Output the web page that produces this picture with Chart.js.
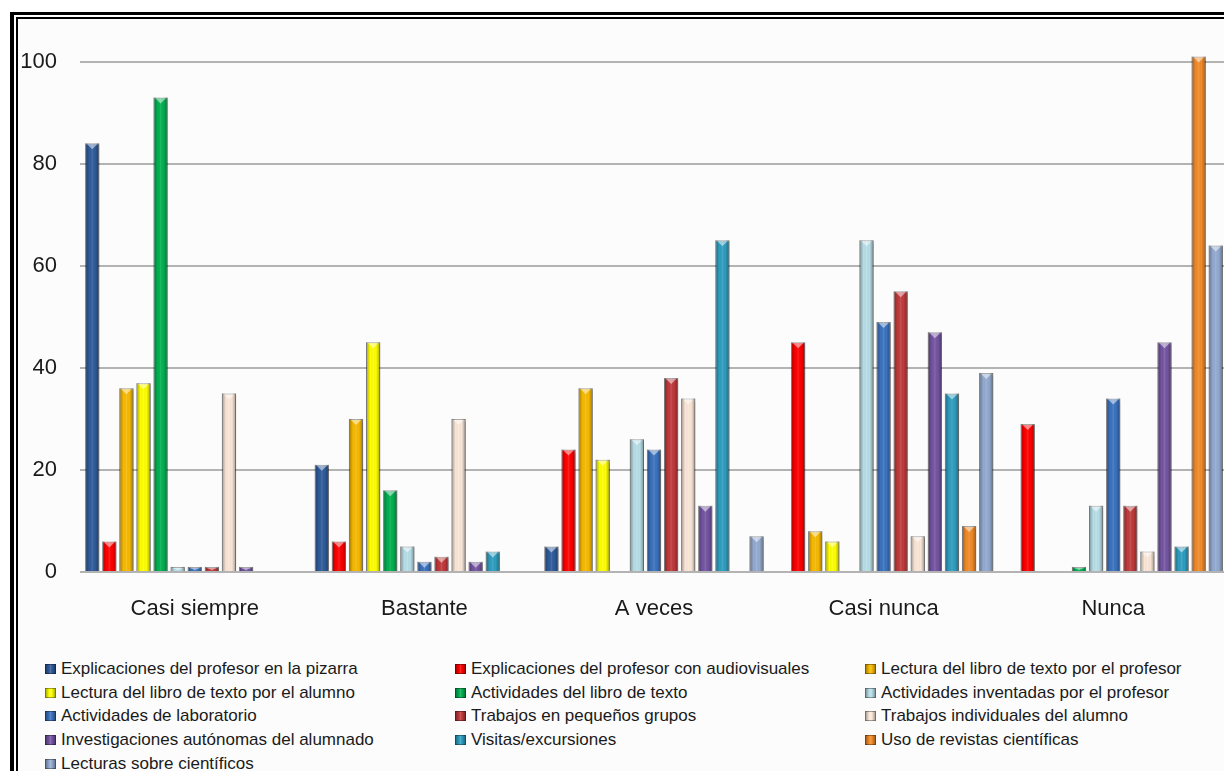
<!DOCTYPE html>
<html lang="es">
<head>
<meta charset="UTF-8">
<title>Metodología en el aula</title>
<script src="https://cdn.jsdelivr.net/npm/chart.js"></script>
<style>
  * { margin: 0; padding: 0; box-sizing: border-box; }

  html, body { overflow: hidden; }
  body {
    width: 1224px;
    height: 771px;
    background: #ffffff;
    position: relative;
    font-family: 'Liberation Sans', Arial, sans-serif;
  }

  /* double black frame, cut by the right and bottom edge like the picture */
  .frame {
    position: absolute;
    left: 10px;
    top: 12px;
    width: 1300px;
    height: 820px;
    border: 3px solid #000;
    border-left-width: 4px;
  }
  .frame-inner {
    position: absolute;
    left: 2px;
    top: 2px;
    right: -10px;
    bottom: -10px;
    border: 2px solid #000;
    background: #fcfcfc;
  }

  #chart {
    position: absolute;
    left: 0;
    top: 0;
    z-index: 2;
  }

  .legend {
    position: absolute;
    left: 45px;
    top: 657px;
    z-index: 3;
    display: grid;
    grid-template-columns: 410px 410px 410px;
    grid-auto-rows: 23.75px;
  }
  .legend-item {
    display: flex;
    align-items: center;
    font-size: 17px;
    color: #1a1a1a;
    white-space: nowrap;
  }
  .legend-item i {
    display: inline-block;
    width: 11px;
    height: 10px;
    margin-right: 5px;
    border: 1px solid rgba(0, 0, 0, 0.35);
    background-image: linear-gradient(to right, rgba(0,0,0,0.3), rgba(0,0,0,0) 35%, rgba(255,255,255,0.15) 50%, rgba(0,0,0,0) 65%, rgba(0,0,0,0.3));
  }
</style>
</head>
<body>
  <div class="frame"><div class="frame-inner"></div></div>
  <canvas id="chart" width="1240" height="640"></canvas>
  <div class="legend" id="legend"></div>

<script>
// categories on the x axis
const categories = ['Casi siempre', 'Bastante', 'A veces', 'Casi nunca', 'Nunca'];

// one list per activity
const pizarra         = [84, 21, 5, 0, 0];
const audiovisuales   = [6, 6, 24, 45, 29];
const lecturaProfesor = [36, 30, 36, 8, 0];
const lecturaAlumno   = [37, 45, 22, 6, 0];
const actLibro        = [93, 16, 0, 0, 1];
const actInventadas   = [1, 5, 26, 65, 13];
const laboratorio     = [1, 2, 24, 49, 34];
const trabajosGrupos  = [1, 3, 38, 55, 13];
const trabajosIndiv   = [35, 30, 34, 7, 4];
const investigaciones = [1, 2, 13, 47, 45];
const visitas         = [0, 4, 65, 35, 5];
const revistas        = [0, 0, 0, 9, 101];
const lecturasCient   = [0, 0, 7, 39, 64];

const seriesNames = [
  'Explicaciones del profesor en la pizarra',
  'Explicaciones del profesor con audiovisuales',
  'Lectura del libro de texto por el profesor',
  'Lectura del libro de texto por el alumno',
  'Actividades del libro de texto',
  'Actividades inventadas por el profesor',
  'Actividades de laboratorio',
  'Trabajos en pequeños grupos',
  'Trabajos individuales del alumno',
  'Investigaciones autónomas del alumnado',
  'Visitas/excursiones',
  'Uso de revistas científicas',
  'Lecturas sobre científicos'
];
const seriesValues = [
  pizarra, audiovisuales, lecturaProfesor, lecturaAlumno, actLibro, actInventadas,
  laboratorio, trabajosGrupos, trabajosIndiv, investigaciones, visitas, revistas, lecturasCient
];

// y axis
const yMax = 105;
const yTicks = [0, 20, 40, 60, 80, 100];

const seriesColors = [
  '#2E5B9A', '#FF0000', '#F7B900', '#FFFF00', '#00B050', '#B7DEE8', '#3A72BE',
  '#C0393B', '#FBE7D8', '#7454A2', '#2D9DBF', '#F28A28', '#93AAD0'
];

const AXIS_FONT = "'Liberation Sans', Arial, sans-serif";

// glassy look: shaded edges, light notch on top, small shadow
const bevelPlugin = {
  id: 'bevel',
  beforeDatasetDraw(chart) {
    const ctx = chart.ctx;
    ctx.save();
    ctx.shadowColor = 'rgba(0,0,0,0.25)';
    ctx.shadowBlur = 3;
    ctx.shadowOffsetX = 2;
    ctx.shadowOffsetY = 1;
  },
  afterDatasetDraw(chart, args) {
    const ctx = chart.ctx;
    ctx.restore();
    args.meta.data.forEach(bar => {
      const p = bar.getProps(['x', 'y', 'width', 'base'], true);
      const h = p.base - p.y;
      if (h < 1) return;
      const left = p.x - p.width / 2;
      const g = ctx.createLinearGradient(left, 0, left + p.width, 0);
      g.addColorStop(0, 'rgba(0,0,0,0.35)');
      g.addColorStop(0.3, 'rgba(0,0,0,0)');
      g.addColorStop(0.5, 'rgba(255,255,255,0.12)');
      g.addColorStop(0.7, 'rgba(0,0,0,0)');
      g.addColorStop(1, 'rgba(0,0,0,0.35)');
      ctx.save();
      ctx.fillStyle = g;
      ctx.fillRect(left, p.y, p.width, h);
      if (h > 4) {
        ctx.fillStyle = 'rgba(255,255,255,0.5)';
        ctx.beginPath();
        ctx.moveTo(left + 2, p.y + 1);
        ctx.lineTo(left + p.width - 2, p.y + 1);
        ctx.lineTo(p.x, p.y + Math.min(6, h - 1));
        ctx.closePath();
        ctx.fill();
      }
      ctx.restore();
    });
  }
};

const chart = new Chart(document.getElementById('chart'), {
  type: 'bar',
  data: {
    labels: categories,
    datasets: seriesNames.map((name, i) => ({
      label: name,
      data: seriesValues[i],
      backgroundColor: seriesColors[i],
      borderColor: 'rgba(0,0,0,0.3)',
      borderWidth: c => (c.raw > 0 ? 1 : 0),
      categoryPercentage: 0.968,
      barPercentage: 0.83
    }))
  },
  options: {
    responsive: false,
    animation: false,
    layout: { padding: { top: 35, right: 12, left: 0, bottom: 0 } },
    plugins: {
      legend: { display: false },
      tooltip: { enabled: false }
    },
    scales: {
      x: {
        afterFit: s => { s.height = 68; },
        grid: { display: false, drawTicks: false },
        border: { display: false },
        ticks: { padding: 24, color: '#1a1a1a', font: { family: AXIS_FONT, size: 22 } }
      },
      y: {
        min: 0,
        max: yMax,
        afterBuildTicks: s => { s.ticks = yTicks.map(v => ({ value: v })); },
        afterFit: s => { s.width = 80; },
        grid: { color: '#b3b3b3', lineWidth: 2, drawTicks: false },
        border: { display: false },
        ticks: { padding: 23, color: '#1a1a1a', font: { family: AXIS_FONT, size: 22 } }
      }
    }
  },
  plugins: [bevelPlugin]
});

// legend in three fixed columns, built from the chart's datasets
const legendBox = document.getElementById('legend');
chart.data.datasets.forEach(ds => {
  const item = document.createElement('div');
  item.className = 'legend-item';
  const mark = document.createElement('i');
  mark.style.backgroundColor = ds.backgroundColor;
  item.appendChild(mark);
  item.appendChild(document.createTextNode(ds.label));
  legendBox.appendChild(item);
});
</script>
</body>
</html>
